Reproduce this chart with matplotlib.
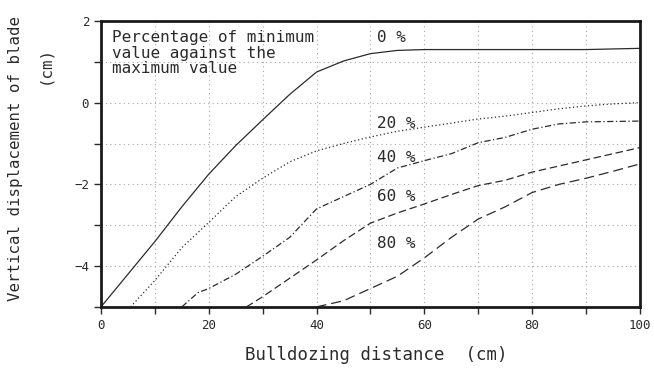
import matplotlib
matplotlib.use('Agg')
import matplotlib.pyplot as plt

# Data (x = bulldozing distance in cm, y = displacement in cm)
x0 = [0, 5, 10, 15, 20, 25, 30, 35, 40, 45, 50, 55, 60, 70, 80, 90, 100]
y0 = [-5, -4.2, -3.4, -2.55, -1.75, -1.05, -0.42, 0.2, 0.75, 1.02, 1.2, 1.28, 1.3, 1.3, 1.3, 1.3, 1.33]

x20 = [5.5, 10, 15, 20, 25, 30, 35, 40, 45, 50, 55, 60, 65, 70, 75, 80, 85, 90, 95, 100]
y20 = [-5, -4.35, -3.55, -2.93, -2.3, -1.85, -1.45, -1.18, -1.0, -0.84, -0.7, -0.6, -0.5, -0.4, -0.33, -0.24, -0.15, -0.08, -0.03, 0.0]

x40 = [15, 18, 20, 25, 30, 35, 40, 45, 50, 55, 60, 65, 70, 75, 80, 85, 90, 95, 100]
y40 = [-5, -4.65, -4.55, -4.2, -3.76, -3.3, -2.6, -2.3, -2.0, -1.6, -1.42, -1.25, -0.98, -0.85, -0.65, -0.52, -0.47, -0.46, -0.45]

x60 = [27, 30, 35, 40, 45, 50, 55, 60, 65, 70, 75, 80, 85, 90, 95, 100]
y60 = [-5, -4.75, -4.3, -3.85, -3.38, -2.95, -2.7, -2.48, -2.25, -2.03, -1.9, -1.7, -1.55, -1.4, -1.25, -1.1]

x80 = [40, 45, 50, 55, 60, 65, 70, 75, 80, 85, 90, 95, 100]
y80 = [-5, -4.85, -4.55, -4.25, -3.8, -3.3, -2.85, -2.55, -2.2, -2.0, -1.85, -1.68, -1.5]

labels = ['0 %', '20 %', '40 %', '60 %', '80 %']
label_y = [1.6, -0.5, -1.35, -2.3, -3.45]

ink = '#2b2b2b'
mono = 'DejaVu Sans Mono'

fig = plt.figure(figsize=(6.54, 3.68), dpi=100)
ax = fig.add_axes([0.1544, 0.166, 0.824, 0.777])

# dotted grid, faint like the scan
for gx in range(10, 100, 10):
    ax.axvline(gx, color='#a8a8a8', lw=0.8, ls=(0, (1, 3)), zorder=1)
for gy in [1, 0, -1, -2, -3, -4]:
    ax.axhline(gy, color='#a8a8a8', lw=0.8, ls=(0, (1, 3)), zorder=1)

ax.plot(x0, y0, color=ink, lw=0.9, ls='-')
ax.plot(x20, y20, color=ink, lw=0.9, ls=(0, (1, 2)))
ax.plot(x40, y40, color=ink, lw=0.9, ls=(0, (5, 2, 1, 2)))
ax.plot(x60, y60, color=ink, lw=0.9, ls=(0, (6, 3)))
ax.plot(x80, y80, color=ink, lw=0.9, ls=(0, (8, 4)))

for lab, ly in zip(labels, label_y):
    ax.text(51.3, ly, lab, family=mono, fontsize=11.5, color=ink, va='center', ha='left')

ax.text(2, 1.78, 'Percentage of minimum\nvalue against the\nmaximum value',
        family=mono, fontsize=11.5, color=ink, va='top', ha='left', linespacing=1.05)

ax.set_xlim(0, 100)
ax.set_ylim(-5, 2)
ax.set_xticks(range(0, 101, 20))
ax.set_xticks(range(0, 101, 10), minor=True)
ax.set_yticks([2, 0, -2, -4])
ax.set_yticks([1, -1, -3, -5], minor=True)
ax.tick_params(which='both', direction='out', length=5, width=1, colors=ink,
               labelsize=9, labelcolor=ink)
for lab in ax.get_xticklabels() + ax.get_yticklabels():
    lab.set_family(mono)
for s in ax.spines.values():
    s.set_linewidth(2)
    s.set_color('#1a1a1a')

fig.text(0.576, 0.035, 'Bulldozing distance  (cm)', family=mono, fontsize=12.5,
         color=ink, ha='center', va='center')
fig.text(0.023, 0.57, 'Vertical displacement of blade', family=mono, fontsize=11.3,
         color=ink, ha='center', va='center', rotation=90)
fig.text(0.069, 0.823, '(cm)', family=mono, fontsize=11.3,
         color=ink, ha='center', va='center', rotation=90)

fig.savefig('out.png', dpi=100)
